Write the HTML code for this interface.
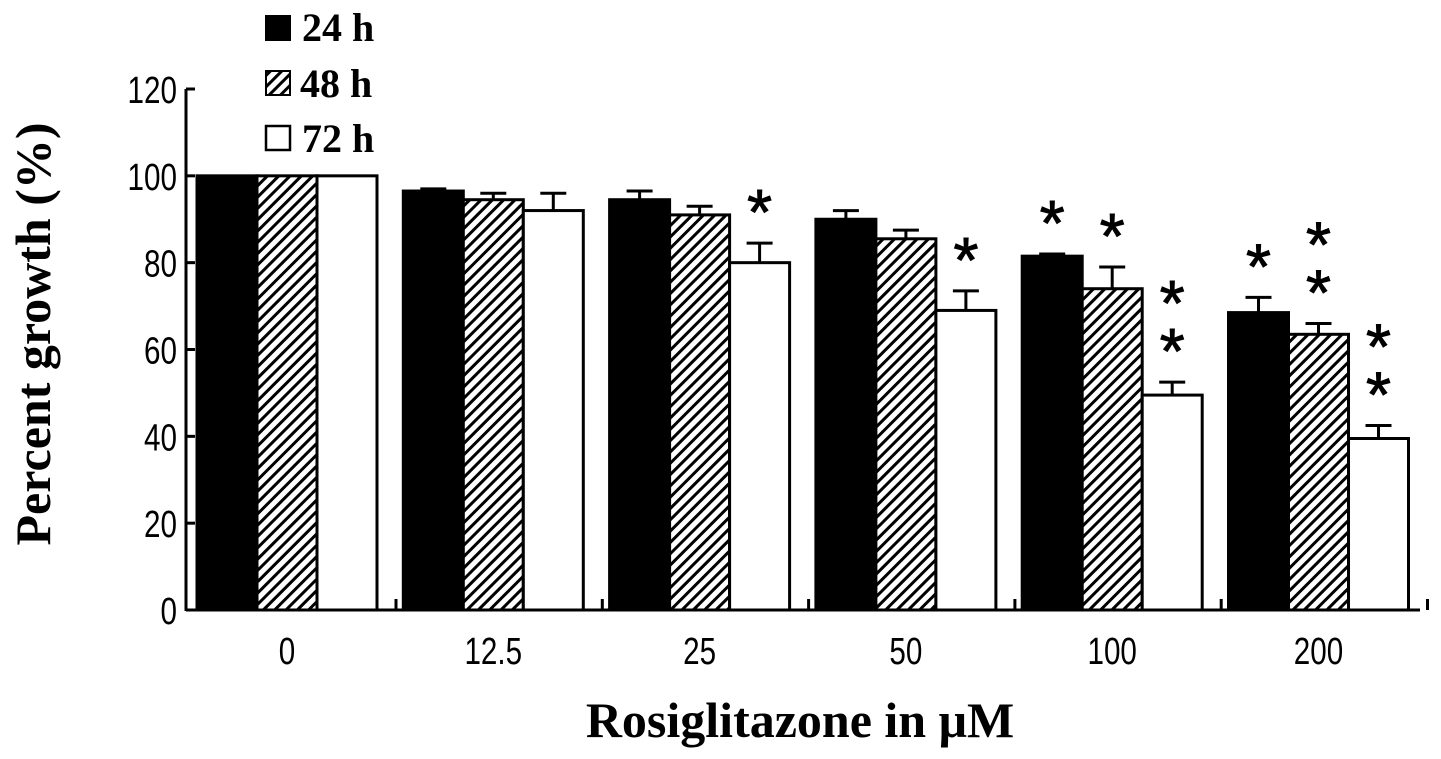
<!DOCTYPE html>
<html><head><meta charset="utf-8"><style>
html,body{margin:0;padding:0;background:#fff;}
svg{display:block;}
</style></head><body>
<svg id="chart" width="1441" height="759" viewBox="0 0 1441 759" xmlns="http://www.w3.org/2000/svg">
<defs>
<pattern id="hatch" patternUnits="userSpaceOnUse" width="8" height="8" patternTransform="rotate(45)">
<rect width="8" height="8" fill="#fff"/>
<rect x="0" y="0" width="3" height="8" fill="#000"/>
</pattern>
</defs>
<g id="legend">
<g>
<rect x="265" y="15" width="26" height="26" fill="#000"/>
<text x="302" y="41" font-family="Liberation Serif, serif" font-weight="bold" font-size="40">24 h</text></g>
<g>
<rect x="266" y="71" width="24" height="24" fill="url(#hatch)" stroke="#000" stroke-width="2"/>
<text x="300" y="97" font-family="Liberation Serif, serif" font-weight="bold" font-size="40">48 h</text></g>
<g>
<rect x="266" y="126" width="24" height="24" fill="#fff" stroke="#000" stroke-width="2.5"/>
<text x="302" y="152" font-family="Liberation Serif, serif" font-weight="bold" font-size="40">72 h</text></g>
</g>
<text transform="translate(50,334) rotate(-90)" text-anchor="middle" font-family="Liberation Serif, serif" font-weight="bold" font-size="50">Percent growth (%)</text>
<text x="800" y="737" text-anchor="middle" font-family="Liberation Serif, serif" font-weight="bold" font-size="50">Rosiglitazone in μM</text>
<g id="plot"></g>
</svg>
<script>
const categories = ["0","12.5","25","50","100","200"];
const series = ["24 h","48 h","72 h"];
const values24 = [100, 96.5, 94.5, 90, 81.5, 68.5];
const values48 = [100, 94.5, 91, 85.5, 74, 63.5];
const values72 = [100, 92, 80, 69, 49.5, 39.5];
const err24 = [0, 0.5, 2, 2, 0.5, 3.5];
const err48 = [0, 1.5, 2, 2, 5, 2.5];
const err72 = [0, 4, 4.5, 4.5, 3, 3];
const stars24 = [0, 0, 0, 0, 1, 1];
const stars48 = [0, 0, 0, 0, 1, 2];
const stars72 = [0, 0, 1, 1, 2, 2];
const yTicks = [0, 20, 40, 60, 80, 100, 120];

const NS = "http://www.w3.org/2000/svg";
const plot = document.getElementById("plot");
const y0 = 610, yMaxPx = 89, yMax = 120;
function y(v){ return y0 - (v / yMax) * (y0 - yMaxPx); }
const axisX = 186, groupStart = 197, groupStep = 206.3, barW = 60;
function xGroup(i){ return groupStart + i * groupStep; }
function mk(tag, attrs){ const e = document.createElementNS(NS, tag); for (const k in attrs) e.setAttribute(k, attrs[k]); plot.appendChild(e); return e; }

const vals = [values24, values48, values72];
const errs = [err24, err48, err72];
const stars = [stars24, stars48, stars72];
const fills = ["#000", "url(#hatch)", "#fff"];

categories.forEach((c, i) => {
  for (let s = 0; s < 3; s++) {
    const x = xGroup(i) + s * barW;
    const v = vals[s][i], e = errs[s][i];
    if (e > 0) {
      const cx = x + barW / 2;
      const l = mk("line", {x1: cx, x2: cx, y1: y(v), y2: y(v + e), stroke: "#000", "stroke-width": 3});
      
      
      const cap = mk("line", {x1: cx - 13, x2: cx + 13, y1: y(v + e), y2: y(v + e), stroke: "#000", "stroke-width": 3});
      
      
    }
    const r = mk("rect", {x: x, y: y(v), width: barW, height: y0 - y(v), fill: fills[s], stroke: "#000", "stroke-width": 3});
    
    
    for (let k = 0; k < stars[s][i]; k++) {
      const t = mk("text", {x: x + barW / 2, y: y(v + e) - 35 - k * 48 + 26, "text-anchor": "middle", "font-family": "Liberation Sans, sans-serif", "font-size": 64, stroke: "#000", "stroke-width": 1});
      t.textContent = "*";
      
      
    }
  }
  const cx = xGroup(i) + 90;
  const lab = mk("text", {x: cx, y: 664, "text-anchor": "middle", "font-family": "Liberation Sans, sans-serif", "font-size": 38, transform: "translate(" + cx + ",0) scale(0.78,1) translate(" + (-cx) + ",0)"});
  lab.textContent = c;
  
  
  const tx = xGroup(i) + 180 + 19;
  const tk = mk("line", {x1: tx, x2: tx, y1: y0, y2: y0 - 11, stroke: "#000", "stroke-width": 3});
  
  
});

const xa = mk("line", {x1: axisX, x2: 1420, y1: y0, y2: y0, stroke: "#000", "stroke-width": 3});


const ya = mk("line", {x1: axisX, x2: axisX, y1: y0 + 1, y2: y(yMax), stroke: "#000", "stroke-width": 3});


yTicks.forEach(v => {
  const t = mk("line", {x1: axisX, x2: axisX + 9, y1: y(v), y2: y(v), stroke: "#000", "stroke-width": 3});
  
  
  const l = mk("text", {x: 177, y: y(v) + 14, "text-anchor": "end", "font-family": "Liberation Sans, sans-serif", "font-size": 38, transform: "translate(177,0) scale(0.78,1) translate(-177,0)"});
  l.textContent = v;
  
  
});
</script>
</body></html>
